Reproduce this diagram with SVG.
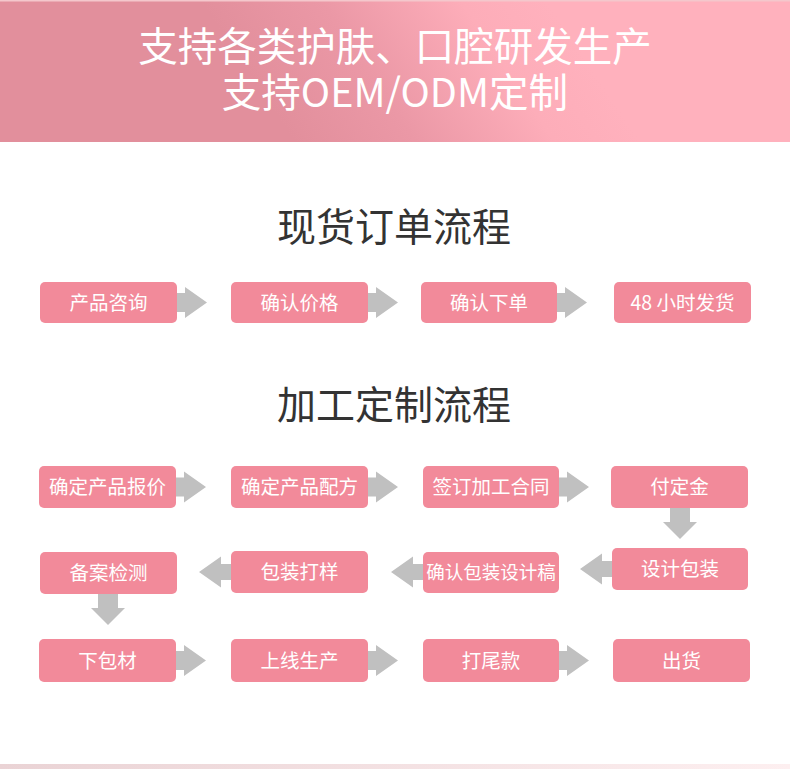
<svg xmlns="http://www.w3.org/2000/svg" width="790" height="769" viewBox="0 0 790 769">
<defs>
<linearGradient id="hdr" gradientUnits="userSpaceOnUse" x1="300" y1="150" x2="540" y2="-10">
<stop offset="0" stop-color="#e28f9c"/>
<stop offset="0.35" stop-color="#eb98a6"/>
<stop offset="0.75" stop-color="#fdadb9"/>
<stop offset="1" stop-color="#ffb1bd"/>
</linearGradient>
<linearGradient id="btm" x1="0" y1="0" x2="1" y2="0">
<stop offset="0" stop-color="#ead3d5"/>
<stop offset="1" stop-color="#fdeff0"/>
</linearGradient>
<polygon id="ar" points="0,-9.5 8,-9.5 8,-15.5 30,0 8,15.5 8,9.5 0,9.5"/>
<polygon id="al" points="0,-8 -10,-8 -10,-15.5 -32,0 -10,15.5 -10,8 0,8"/>
<polygon id="ad" points="-10,0 10,0 10,14 17,14 0,31 -17,14 -10,14"/>
</defs>
<style>
.box{fill:#f28a9a}
.bt{fill:#ffffff;font-family:"Noto Sans CJK SC","Noto Sans",sans-serif;font-size:19.5px;text-anchor:middle}
.sec{fill:#333333;font-family:"Noto Sans CJK SC","Noto Sans",sans-serif;font-size:39px;text-anchor:middle}
.hd{fill:#ffffff;font-family:"Noto Sans CJK SC","Noto Sans",sans-serif;font-size:39.5px;text-anchor:middle}
.arr{fill:#c0c0c0}
</style>
<rect width="790" height="769" fill="#ffffff"/>
<g id="header">
<rect x="0" y="0" width="790" height="142" fill="url(#hdr)"/>
<rect x="0" y="0" width="790" height="1.5" fill="#f4c7cc"/>
<text class="hd" x="395" y="61">支持各类护肤、口腔研发生产</text>
<text class="hd" x="395" y="107">支持OEM/ODM定制</text>
</g>
<rect x="0" y="764" width="790" height="5" fill="url(#btm)"/>
<text class="sec" x="394" y="241">现货订单流程</text>
<text class="sec" x="394" y="419">加工定制流程</text>

<g id="connectors">
<use href="#ar" class="arr" x="177" y="302.5"/>
<use href="#ar" class="arr" x="368" y="302.5"/>
<use href="#ar" class="arr" x="557" y="302.5"/>
<use href="#ar" class="arr" x="176" y="487"/>
<use href="#ar" class="arr" x="368" y="487"/>
<use href="#ar" class="arr" x="559" y="487"/>
<use href="#ad" class="arr" x="680" y="508"/>
<use href="#al" class="arr" x="612" y="569"/>
<use href="#al" class="arr" x="423" y="572"/>
<use href="#al" class="arr" x="231" y="572"/>
<use href="#ad" class="arr" x="108" y="594"/>
<use href="#ar" class="arr" x="176" y="660.5"/>
<use href="#ar" class="arr" x="368" y="660.5"/>
<use href="#ar" class="arr" x="559" y="660.5"/>
</g>

<g id="n1"><rect class="box" x="40" y="282" width="137" height="41" rx="5"/><text class="bt" x="108.5" y="309.5">产品咨询</text></g>
<g id="n2"><rect class="box" x="231" y="282" width="137" height="41" rx="5"/><text class="bt" x="299.5" y="309.5">确认价格</text></g>
<g id="n3"><rect class="box" x="421" y="282" width="136" height="41" rx="5"/><text class="bt" x="489" y="309.5">确认下单</text></g>
<g id="n4"><rect class="box" x="614" y="282" width="137" height="41" rx="5"/><text class="bt" x="682.5" y="309.5">48 小时发货</text></g>

<g id="m1"><rect class="box" x="39" y="466" width="137" height="42" rx="5"/><text class="bt" x="107.5" y="494">确定产品报价</text></g>
<g id="m2"><rect class="box" x="231" y="466" width="137" height="42" rx="5"/><text class="bt" x="299.5" y="494">确定产品配方</text></g>
<g id="m3"><rect class="box" x="423" y="466" width="136" height="42" rx="5"/><text class="bt" x="491" y="494">签订加工合同</text></g>
<g id="m4"><rect class="box" x="611" y="466" width="137" height="42" rx="5"/><text class="bt" x="679.5" y="494">付定金</text></g>

<g id="m5"><rect class="box" x="612" y="548" width="136" height="42" rx="5"/><text class="bt" x="680" y="576">设计包装</text></g>
<g id="m6"><rect class="box" x="423" y="552" width="136" height="41" rx="5"/><text class="bt" style="font-size:18.5px" x="491" y="579">确认包装设计稿</text></g>
<g id="m7"><rect class="box" x="231" y="551" width="137" height="42" rx="5"/><text class="bt" x="299.5" y="579">包装打样</text></g>
<g id="m8"><rect class="box" x="40" y="552" width="137" height="42" rx="5"/><text class="bt" x="108.5" y="580">备案检测</text></g>

<g id="m9"><rect class="box" x="39" y="639" width="137" height="43" rx="5"/><text class="bt" x="107.5" y="667.5">下包材</text></g>
<g id="m10"><rect class="box" x="231" y="639" width="137" height="43" rx="5"/><text class="bt" x="299.5" y="667.5">上线生产</text></g>
<g id="m11"><rect class="box" x="423" y="639" width="136" height="43" rx="5"/><text class="bt" x="491" y="667.5">打尾款</text></g>
<g id="m12"><rect class="box" x="613" y="639" width="137" height="43" rx="5"/><text class="bt" x="681.5" y="667.5">出货</text></g>
</svg>
